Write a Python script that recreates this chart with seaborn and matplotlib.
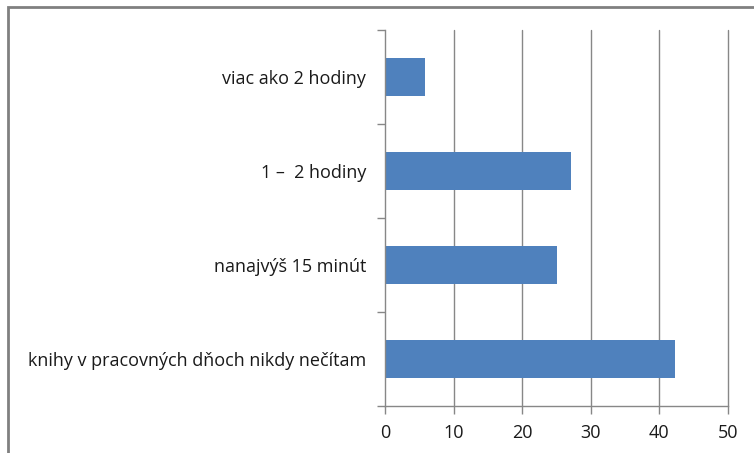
import matplotlib
matplotlib.use("Agg")
import matplotlib.pyplot as plt
import seaborn as sns
import pandas as pd
from matplotlib.patches import Rectangle

categories = ["viac ako 2 hodiny", "1 –  2 hodiny", "nanajvýš 15 minút",
              "knihy v pracovných dňoch nikdy nečítam"]
values = [5.8, 27.1, 25.1, 42.3]
x_ticks = [0, 10, 20, 30, 40, 50]

df = pd.DataFrame({"kategoria": categories, "hodnota": values})

sns.set_theme(style="white")
plt.rcParams["font.family"] = ["Open Sans", "DejaVu Sans"]

W, H = 754, 453
fig = plt.figure(figsize=(W / 100, H / 100), dpi=100)
ax = fig.add_axes([385 / W, 1 - 406 / H, (728 - 385) / W, (406 - 30) / H])

sns.barplot(data=df, x="hodnota", y="kategoria", color="#4F81BD",
            width=0.4, saturation=1, ax=ax, orient="h", linewidth=0)

ax.set_xlim(0, 50)
ax.set_ylim(3.5, -0.5)
ax.set_xticks(x_ticks)
ax.set_xticklabels([str(t) for t in x_ticks], fontsize=13, color="#1a1a1a")
ax.set_xlabel("")
ax.set_ylabel("")
ax.tick_params(axis="y", labelsize=13, labelcolor="#1a1a1a", length=0, pad=13.5)
ax.tick_params(axis="x", bottom=True, length=6, width=1, color="#878787",
               direction="out", pad=7)

# category boundary ticks on the left axis
ax.set_yticks([i - 0.5 for i in range(5)], minor=True)
ax.tick_params(axis="y", which="minor", left=True, length=6, width=1,
               color="#878787", direction="out")

for t in x_ticks[1:]:
    ax.axvline(t, color="#878787", lw=1, zorder=0, clip_on=False)
ax.set_axisbelow(True)

for s in ["top", "right"]:
    ax.spines[s].set_visible(False)
for s in ["left", "bottom"]:
    ax.spines[s].set_color("#878787")
    ax.spines[s].set_linewidth(1)

# outer frame of the chart object
fig.patches.append(Rectangle((8 / W, -0.05), 1.0, 1 - 7 / H + 0.05,
                             transform=fig.transFigure, fill=False,
                             edgecolor="#808080", lw=2))
fig.text(28 / W, 1 + 4 / H, "Graf 1", family="Liberation Serif", fontsize=13,
         va="bottom", ha="left")

fig.savefig("out.png", dpi=100)
